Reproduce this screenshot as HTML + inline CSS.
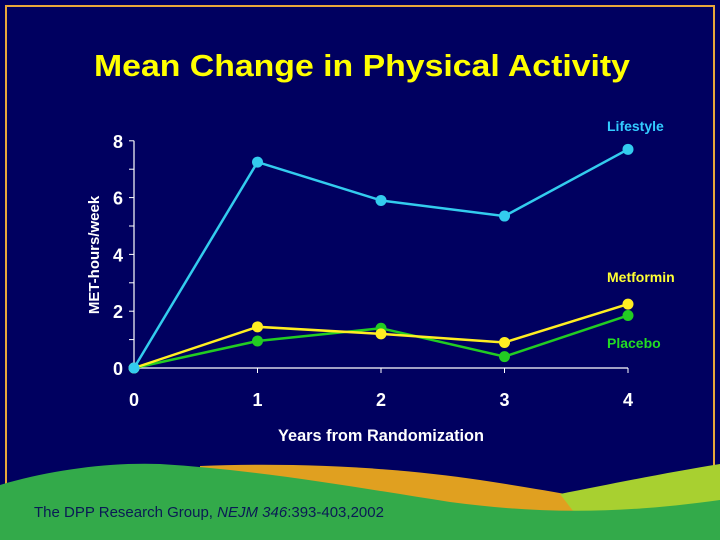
<!DOCTYPE html>
<html><head><meta charset="utf-8">
<style>
html,body{margin:0;padding:0;background:#000060;}
svg{display:block;}
</style></head>
<body>
<svg width="720" height="540" viewBox="0 0 720 540" xmlns="http://www.w3.org/2000/svg">
<rect x="0" y="0" width="720" height="540" fill="#000060"/>
<rect x="6" y="6" width="708" height="560" fill="none" stroke="#e8a83a" stroke-width="2"/>
<text x="362" y="76" text-anchor="middle" font-family="Liberation Sans, sans-serif" font-weight="bold" font-size="31" fill="#ffff00" textLength="536" lengthAdjust="spacingAndGlyphs">Mean Change in Physical Activity</text>
<text transform="translate(99,255) rotate(-90)" text-anchor="middle" font-family="Liberation Sans, sans-serif" font-weight="bold" font-size="15" fill="#ffffff">MET-hours/week</text>
<text x="381" y="441" text-anchor="middle" font-family="Liberation Sans, sans-serif" font-weight="bold" font-size="17" fill="#ffffff" textLength="206" lengthAdjust="spacingAndGlyphs">Years from Randomization</text>
<g id="axes"></g>
<g id="series"></g>
<g id="labels" font-family="Liberation Sans, sans-serif" font-weight="bold" font-size="14">
<text x="607" y="131" fill="#33ccff">Lifestyle</text>
<text x="607" y="282" fill="#ffff33">Metformin</text>
<text x="607" y="348" fill="#22dd22">Placebo</text>
</g>
<g>
<path d="M200,466 C300,462 400,468 480,480 C560,492 620,504 670,514 L670,540 L200,540 Z" fill="#e0a020"/>
<path d="M560,494 C610,484 670,472 720,464 L720,520 L580,520Z" fill="#a8d030"/>
<path d="M0,485 C50,470 110,462 160,464 C260,470 360,488 450,502 C540,514 620,514 720,500 L720,540 L0,540 Z" fill="#33aa4a"/>
</g>
<text x="34" y="517" font-family="Liberation Sans, sans-serif" font-size="15" fill="#0a1a55">The DPP Research Group, <tspan font-style="italic">NEJM 346</tspan>:393-403,2002</text>
</svg>
<script>
const years = [0, 1, 2, 3, 4];
const yTicks = [0, 2, 4, 6, 8];
const lifestyle = [0, 7.25, 5.9, 5.35, 7.7];
const metformin = [0, 1.45, 1.2, 0.9, 2.25];
const placebo = [0, 0.95, 1.4, 0.4, 1.85];
const NS = 'http://www.w3.org/2000/svg';
function xs(v){ return 134 + v * 123.5; }
function ys(v){ return 368 - v * 28.4; }
function mk(tag, attrs, parent){ const e = document.createElementNS(NS, tag); for (const k in attrs) e.setAttribute(k, attrs[k]); parent.appendChild(e); return e; }
const axes = document.getElementById('axes');
let yl = mk('line', {x1: xs(0), y1: ys(0), x2: xs(0), y2: ys(8), stroke: '#fff', 'stroke-width': 1.2}, axes);


let xl = mk('line', {x1: xs(0), y1: ys(0), x2: xs(4), y2: ys(0), stroke: '#fff', 'stroke-width': 1.2}, axes);


for (let v = 0; v <= 8; v++) {
  const tk = mk('line', {x1: xs(0) - 5, y1: ys(v), x2: xs(0), y2: ys(v), stroke: '#fff', 'stroke-width': 1}, axes);
  
  
}
yTicks.forEach(v => {
  const t = mk('text', {x: 118, y: ys(v) + 7, 'text-anchor': 'middle', 'font-family': 'Liberation Sans, sans-serif', 'font-weight': 'bold', 'font-size': 18, fill: '#fff'}, axes);
  t.textContent = v;
  
  
});
years.forEach(v => {
  const tk = mk('line', {x1: xs(v), y1: ys(0), x2: xs(v), y2: ys(0) + 5, stroke: '#fff', 'stroke-width': 1}, axes);
  
  
  const t = mk('text', {x: xs(v), y: 406, 'text-anchor': 'middle', 'font-family': 'Liberation Sans, sans-serif', 'font-weight': 'bold', 'font-size': 18, fill: '#fff'}, axes);
  t.textContent = v;
  
  
});
const ser = document.getElementById('series');
function draw(vals, color, name){
  const pts = vals.map((v, i) => xs(years[i]) + ',' + ys(v)).join(' ');
  const pl = mk('polyline', {points: pts, fill: 'none', stroke: color, 'stroke-width': 2.5}, ser);
  
  
  vals.forEach((v, i) => {
    const c = mk('circle', {cx: xs(years[i]), cy: ys(v), r: 5.5, fill: color}, ser);
    
    
  });
}
draw(placebo, '#22cc22', 'placebo');
draw(metformin, '#ffee22', 'metformin');
draw(lifestyle, '#33ccee', 'lifestyle');
</script>
</body></html>
